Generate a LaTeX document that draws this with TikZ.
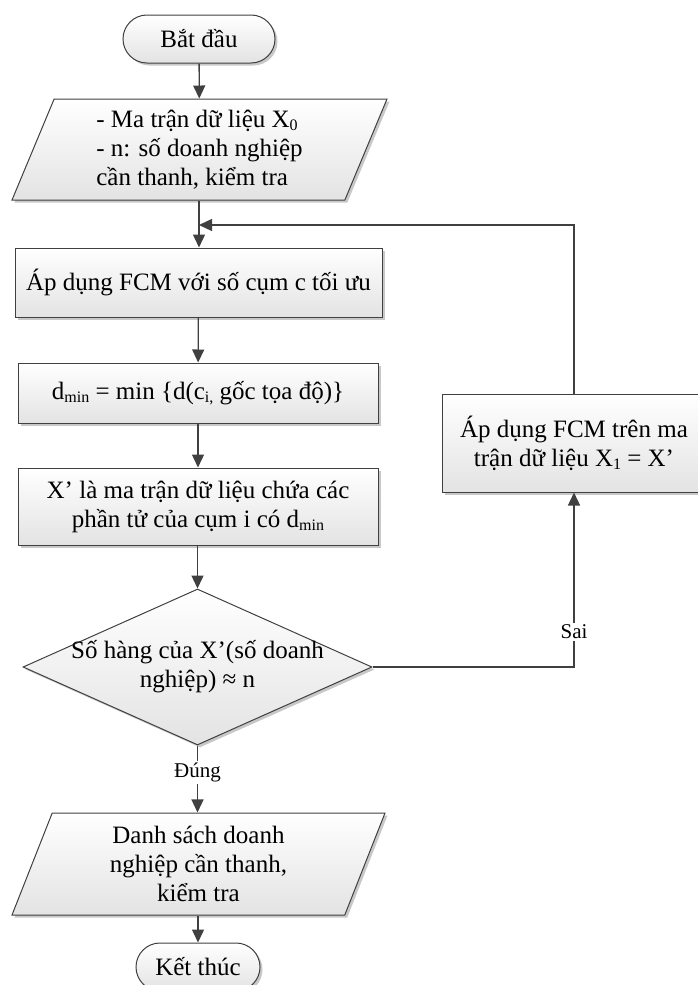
\documentclass[tikz,border=0pt]{standalone}
\usepackage{fontspec}
\setmainfont{Liberation Serif}
\usetikzlibrary{shapes.geometric,shapes.misc,arrows.meta,shadows}

% lowered small text for indices such as X0, dmin
\newcommand{\lowidx}[1]{\raisebox{-0.3ex}{\fontsize{16}{16}\selectfont #1}}

\definecolor{linegray}{HTML}{404040}
\definecolor{shadowgray}{HTML}{C8C8C8}

\tikzset{
  base/.style={draw=linegray, line width=1pt, top color=white, bottom color=black!11,
    drop shadow={shadow xshift=2.5pt, shadow yshift=-2.5pt, fill=shadowgray, opacity=1},
    font=\fontsize{25}{29}\selectfont, inner sep=0pt, align=center},
  term/.style={base, rounded rectangle, minimum height=48pt},
  procbox/.style={base, rectangle},
  iobox/.style={base, trapezium, trapezium left angle=62, trapezium right angle=118,
    trapezium stretches body},
  decision/.style={base, diamond},
  flow/.style={draw=linegray, line width=1.3pt, -{Triangle[length=13pt,width=12pt]}},
  edgelabel/.style={fill=white, inner sep=2pt, font=\fontsize{21}{24}\selectfont}
}

\begin{document}
\begin{tikzpicture}[x=1pt,y=-1pt]
\useasboundingbox (0,0) rectangle (697,985);

% terminals
\node[term, minimum width=152pt] (start) at (199,39) {Bắt đầu};
\node[term, minimum width=124pt] (stop) at (198,967) {Kết thúc};

% input data
\node[iobox, minimum width=375pt, minimum height=101pt, align=left] (input) at (199.5,149.5)
  {- Ma trận dữ liệu X\lowidx{0}\\- n: số doanh nghiệp\\cần thanh, kiểm tra};

% processing steps
\node[procbox, minimum width=367pt, minimum height=69pt] (fcm) at (198.5,282.5)
  {Áp dụng FCM với số cụm c tối ưu};
\node[procbox, minimum width=360pt, minimum height=60pt] (dmin) at (198,393)
  {d\lowidx{min} = min \{d(c\lowidx{i,} gốc tọa độ)\}};
\node[procbox, minimum width=360pt, minimum height=77pt] (subset) at (198,506.5)
  {X’ là ma trận dữ liệu chứa các\\phần tử của cụm i có d\lowidx{min}};

% test
\node[decision, minimum width=349pt, minimum height=156pt,
  label={[font=\fontsize{25}{29}\selectfont, align=center]center:Số hàng của X’(số doanh\\nghiệp) ≈ n}]
  (test) at (197.5,667) {};

% repeat step
\node[procbox, minimum width=264pt, minimum height=98pt] (refcm) at (574,443)
  {Áp dụng FCM trên ma\\trận dữ liệu X\lowidx{1} = X’};

% output
\node[iobox, minimum width=373pt, minimum height=102pt] (output) at (198.5,864)
  {Danh sách doanh\\nghiệp cần thanh,\\kiểm tra};

% main flow
\coordinate (merge) at (199,225);
\draw[flow] (start) -- (input);
\draw[flow] (input.south -| merge) -- (fcm.north -| merge);
\draw[flow] (fcm) -- (dmin);
\draw[flow] (dmin) -- (subset);
\draw[flow] (subset.south -| test.north) -- (test.north);
\draw[flow] (test.south) -- node[edgelabel, pos=0.4] {Đúng} (output.north -| test.south);
\draw[flow] (output.south -| stop.north) -- (stop.north);

% loop back on "Sai"
\draw[flow] (test.east) -| node[edgelabel, pos=0.6] {Sai} (refcm.south);
\draw[flow] (refcm.north) |- (merge);
\end{tikzpicture}
\end{document}
